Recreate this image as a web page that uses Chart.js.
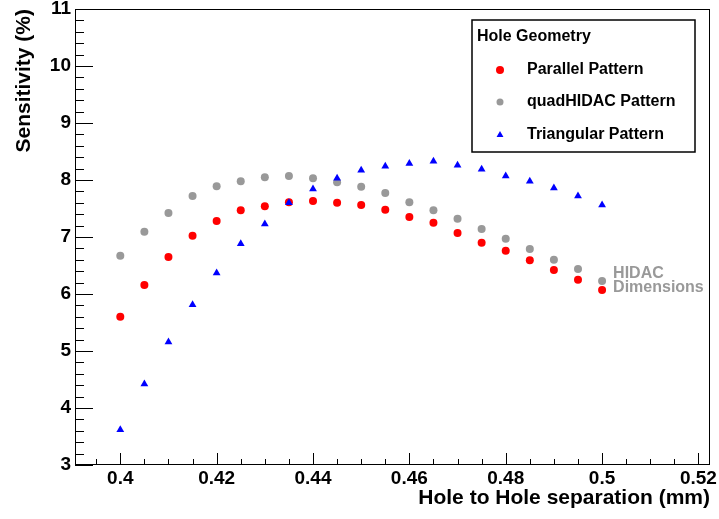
<!DOCTYPE html>
<html>
<head>
<meta charset="utf-8">
<script src="https://cdn.jsdelivr.net/npm/chart.js@4/dist/chart.umd.min.js"></script>
<style>
  html, body { margin: 0; padding: 0; background: #fff; }
  #wrap { width: 719px; height: 519px; }
</style>
</head>
<body>
<div id="wrap"><canvas id="chart" width="719" height="519"></canvas></div>
<script>
// Hole to hole separation (mm)
const separation = [0.400, 0.405, 0.410, 0.415, 0.420, 0.425, 0.430, 0.435, 0.440, 0.445, 0.450,
                    0.455, 0.460, 0.465, 0.470, 0.475, 0.480, 0.485, 0.490, 0.495, 0.500];
// Sensitivity (%) per pattern
const parallel   = [5.60, 6.16, 6.65, 7.02, 7.28, 7.47, 7.54, 7.61, 7.63, 7.60, 7.56,
                    7.48, 7.35, 7.25, 7.07, 6.90, 6.76, 6.59, 6.42, 6.25, 6.07];
const quadHidac  = [6.67, 7.09, 7.42, 7.72, 7.89, 7.98, 8.05, 8.07, 8.03, 7.96, 7.88,
                    7.77, 7.61, 7.47, 7.32, 7.14, 6.97, 6.79, 6.60, 6.44, 6.23];
const triangular = [3.62, 4.42, 5.16, 5.81, 6.37, 6.88, 7.23, 7.60, 7.84, 8.03, 8.17,
                    8.24, 8.29, 8.33, 8.26, 8.19, 8.07, 7.98, 7.86, 7.72, 7.56];

const xTicks = [0.4, 0.42, 0.44, 0.46, 0.48, 0.5, 0.52];
const yTicks = [3, 4, 5, 6, 7, 8, 9, 10, 11];

const seriesNames = ['Parallel Pattern', 'quadHIDAC Pattern', 'Triangular Pattern'];
const legendTitle = 'Hole Geometry';
const noteLines = ['HIDAC', 'Dimensions'];

const FONT = '"Liberation Sans", Arial, Helvetica, sans-serif';

const toPoints = vals => separation.map((x, i) => ({x: x, y: vals[i]}));

// frame, inward ticks, legend box and note, ROOT style
const rootDecor = {
  id: 'rootDecor',
  afterDraw(chart) {
    const ctx = chart.ctx;
    const a = chart.chartArea;
    const xs = chart.scales.x;
    const ys = chart.scales.y;
    ctx.save();
    ctx.fillStyle = '#000';
    // frame
    ctx.fillRect(a.left, a.top, a.right - a.left, 1);
    ctx.fillRect(a.left, a.bottom - 1, a.right - a.left, 1);
    ctx.fillRect(a.left, a.top, 1, a.bottom - a.top);
    ctx.fillRect(a.right - 1, a.top, 1, a.bottom - a.top);

    // y: minor every 0.2, major every 1
    for (let i = 0; i <= 40; i++) {
      const py = Math.round(ys.getPixelForValue(yTicks[0] + i * 0.2));
      const len = i % 5 === 0 ? 18 : 9;
      ctx.fillRect(a.left, py, len, 1);
    }
    // x: minor every 0.005, major every 0.02
    for (let k = Math.ceil(xs.min / 0.005); k * 0.005 <= xs.max; k++) {
      const px = Math.round(xs.getPixelForValue(k * 0.005));
      const len = k % 4 === 0 ? 12 : 6;
      ctx.fillRect(px, a.bottom - len, 1, len);
    }

    // legend
    ctx.fillStyle = '#fff';
    ctx.fillRect(472, 20, 223, 132);
    ctx.strokeStyle = '#000';
    ctx.lineWidth = 1.5;
    ctx.strokeRect(472, 20, 223, 132);

    ctx.fillStyle = '#000';
    ctx.font = 'bold 16px ' + FONT;
    ctx.textBaseline = 'middle';
    ctx.textAlign = 'left';
    ctx.fillText(legendTitle, 477, 37);

    const rows = [70, 102, 135];
    const sizes = [4, 3.5, 4];
    chart.data.datasets.forEach((ds, i) => {
      ctx.fillStyle = ds.backgroundColor;
      ctx.strokeStyle = ds.backgroundColor;
      Chart.helpers.drawPoint(ctx, {
        pointStyle: ds.pointStyle,
        radius: sizes[i],
        borderWidth: 0,
        rotation: 0
      }, 500, rows[i]);
      ctx.fillStyle = '#000';
      ctx.fillText(seriesNames[i], 527, rows[i]);
    });

    // note next to the 0.5 mm points
    ctx.fillStyle = '#999999';
    ctx.font = 'bold 16px ' + FONT;
    const nx = xs.getPixelForValue(0.5) + 11;
    ctx.fillText(noteLines[0], nx, ys.getPixelForValue(6.35));
    ctx.fillText(noteLines[1], nx, ys.getPixelForValue(6.11));
    ctx.restore();
  }
};

const tickFont = {family: FONT, size: 19, weight: 'bold'};
const titleFont = {family: FONT, size: 21, weight: 'bold'};

new Chart(document.getElementById('chart'), {
  type: 'scatter',
  data: {
    datasets: [
      {label: seriesNames[0], data: toPoints(parallel), pointStyle: 'circle',
       backgroundColor: '#ff0000', borderColor: '#ff0000', pointRadius: 4, pointBorderWidth: 0, order: 3},
      {label: seriesNames[1], data: toPoints(quadHidac), pointStyle: 'circle',
       backgroundColor: '#999999', borderColor: '#999999', pointRadius: 4, pointBorderWidth: 0, order: 2},
      {label: seriesNames[2], data: toPoints(triangular), pointStyle: 'triangle',
       backgroundColor: '#0000ff', borderColor: '#0000ff', pointRadius: 4.5, pointBorderWidth: 0, order: 1}
    ]
  },
  options: {
    responsive: false,
    animation: false,
    devicePixelRatio: 1,
    layout: {padding: {top: 9, right: 9, left: 0, bottom: 0}},
    plugins: {legend: {display: false}, tooltip: {enabled: false}},
    scales: {
      x: {
        type: 'linear',
        min: 0.3906,
        max: 0.5224,
        afterBuildTicks: s => { s.ticks = xTicks.map(v => ({value: v})); },
        afterFit: s => { s.height = 54; s.paddingLeft = 0; s.paddingRight = 0; },
        grid: {display: false, drawTicks: false},
        border: {display: false},
        ticks: {
          font: tickFont, color: '#000', padding: 2, maxRotation: 0, autoSkip: false,
          callback: v => String(+v.toFixed(2))
        },
        title: {display: true, text: 'Hole to Hole separation (mm)', align: 'end',
                font: titleFont, color: '#000', padding: {top: 0, bottom: 8}}
      },
      y: {
        type: 'linear',
        min: 3,
        max: 11,
        afterBuildTicks: s => { s.ticks = yTicks.map(v => ({value: v})); },
        afterFit: s => { s.width = 75; s.paddingTop = 0; s.paddingBottom = 0; },
        grid: {display: false, drawTicks: false},
        border: {display: false},
        ticks: {font: tickFont, color: '#000', padding: 4, autoSkip: false},
        title: {display: true, text: 'Sensitivity (%)', align: 'end',
                font: titleFont, color: '#000', padding: {top: 12, bottom: 0}}
      }
    }
  },
  plugins: [rootDecor]
});
</script>
</body>
</html>
